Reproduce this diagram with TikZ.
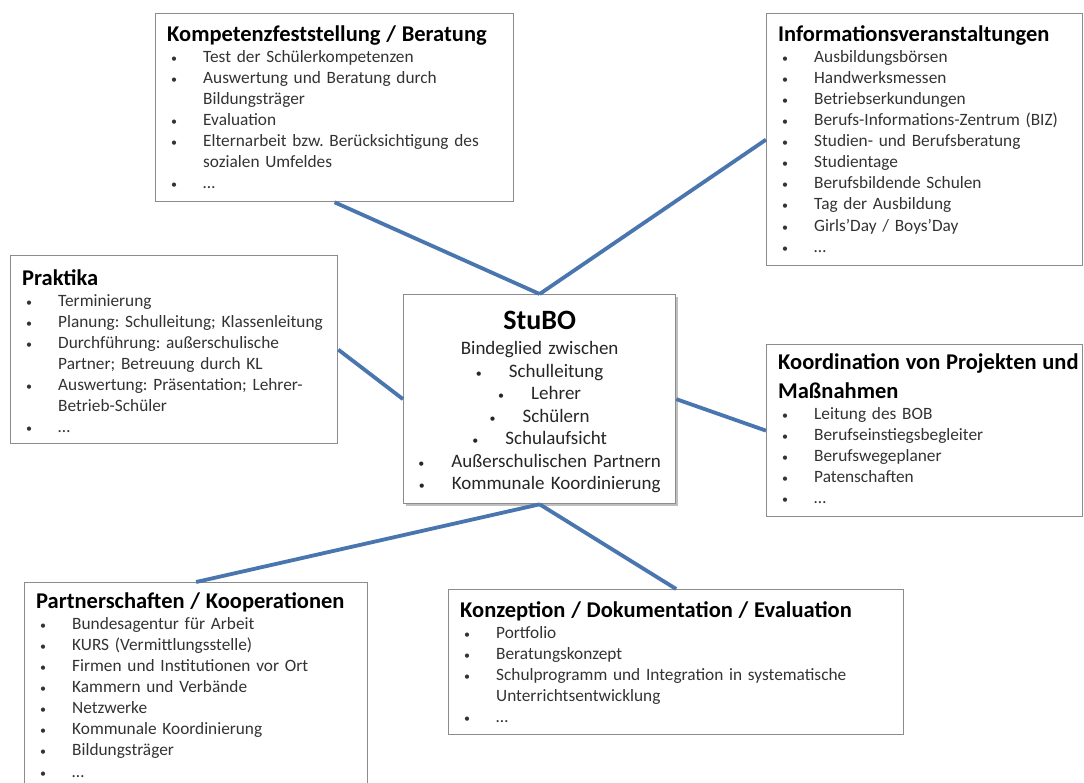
\documentclass[tikz,border=0pt]{standalone}
\usepackage{fontspec}
\setmainfont{Carlito}
\usetikzlibrary{positioning, shadows}

\definecolor{linkblue}{RGB}{74,118,176}

\frenchspacing
\newcommand{\itemfont}{\fontsize{17.3}{21.1}\selectfont}
\newcommand{\smallbullet}{{\fontsize{12}{12}\selectfont\textbullet}}
\newcommand{\boxtitle}[1]{{\noindent\fontsize{22.5}{29}\selectfont\bfseries\color{black}\rule{0pt}{20pt}#1\par}}
\newcommand{\itm}[1]{\par\noindent\hangindent=36pt\hangafter=1\makebox[36pt][l]{\hspace{4pt}\smallbullet}#1}
\newcommand{\stb}{\makebox[33pt][l]{\smallbullet}}

\begin{document}
\begin{tikzpicture}[x=1pt, y=-1pt]
    % settings for this picture
    \tikzset{
      frame/.style={draw=black!45, line width=1.3pt, fill=white, inner sep=0pt, anchor=north west},
      listtext/.style={inner sep=0pt, align=left, font=\itemfont, text=black!80},
      link/.style={draw=linkblue, line width=3.8pt},
    }
    \useasboundingbox (0,0) rectangle (1084,783);
    \fill[white] (0,0) rectangle (1084,783);
    \clip (0,0) rectangle (1084,783);

    % frames
    \node[frame, minimum width=358pt, minimum height=188pt] (kompetenz) at (155,13) {};
    \node[frame, minimum width=316pt, minimum height=252pt] (info) at (766,13) {};
    \node[frame, minimum width=327pt, minimum height=188pt] (praktika) at (10,255) {};
    \node[frame, minimum width=272pt, minimum height=209pt,
          drop shadow={shadow xshift=2.5pt, shadow yshift=-2.5pt, fill=black, opacity=.25}] (stubo) at (403,294) {};
    \node[frame, minimum width=316pt, minimum height=172pt] (koordination) at (766,344) {};
    \node[frame, minimum width=343pt, minimum height=230pt] (partner) at (24,582) {};
    \node[frame, minimum width=455pt, minimum height=145pt] (konzeption) at (448,589) {};

    % texts
    \node[listtext, text width=346pt, below right=8pt and 12pt of kompetenz.north west] (kompetenzText) {%
      \boxtitle{Kompetenzfeststellung / Beratung}%
      \itm{Test der Schülerkompetenzen}%
      \itm{Auswertung und Beratung durch\newline Bildungsträger}%
      \itm{Evaluation}%
      \itm{Elternarbeit bzw. Berücksichtigung des\newline sozialen Umfeldes}%
      \itm{…}};
    \node[listtext, text width=310pt, below right=8pt and 12pt of info.north west] (infoText) {%
      \boxtitle{Informationsveranstaltungen}%
      \itm{Ausbildungsbörsen}%
      \itm{Handwerksmessen}%
      \itm{Betriebserkundungen}%
      \itm{Berufs-Informations-Zentrum (BIZ)}%
      \itm{Studien- und Berufsberatung}%
      \itm{Studientage}%
      \itm{Berufsbildende Schulen}%
      \itm{Tag der Ausbildung}%
      \itm{Girls’Day / Boys’Day}%
      \itm{…}};
    \node[listtext, text width=320pt, below right=10pt and 12pt of praktika.north west] (praktikaText) {%
      \boxtitle{Praktika}%
      \itm{Terminierung}%
      \itm{Planung: Schulleitung; Klassenleitung}%
      \itm{Durchführung: außerschulische\newline Partner; Betreuung durch KL}%
      \itm{Auswertung: Präsentation; Lehrer-\newline Betrieb-Schüler}%
      \itm{…}};
    \node[inner sep=0pt, align=center, text width=272pt, font=\fontsize{19}{22.5}\selectfont,
          text=black!85, below=11.7pt of stubo.north] (stuboText) {%
      {\fontsize{28}{34}\selectfont\bfseries\color{black}\rule{0pt}{24pt}StuBO}\\[2.6pt]
      Bindeglied zwischen\\
      \stb Schulleitung\\
      \stb Lehrer\\
      \stb Schülern\\
      \stb Schulaufsicht\\
      \stb Außerschulischen Partnern\\
      \stb Kommunale Koordinierung};
    \node[listtext, text width=312pt, below right=5pt and 12pt of koordination.north west] (koordinationText) {%
      \boxtitle{Koordination von Projekten und\newline Maßnahmen}%
      \itm{Leitung des BOB}%
      \itm{Berufseinstiegsbegleiter}%
      \itm{Berufswegeplaner}%
      \itm{Patenschaften}%
      \itm{…}};
    \node[listtext, text width=331pt, below right=6pt and 12pt of partner.north west] (partnerText) {%
      \boxtitle{Partnerschaften / Kooperationen}%
      \itm{Bundesagentur für Arbeit}%
      \itm{KURS (Vermittlungsstelle)}%
      \itm{Firmen und Institutionen vor Ort}%
      \itm{Kammern und Verbände}%
      \itm{Netzwerke}%
      \itm{Kommunale Koordinierung}%
      \itm{Bildungsträger}%
      \itm{…}};
    \node[listtext, text width=440pt, below right=8pt and 12pt of konzeption.north west] (konzeptionText) {%
      \boxtitle{Konzeption / Dokumentation / Evaluation}%
      \itm{Portfolio}%
      \itm{Beratungskonzept}%
      \itm{Schulprogramm und Integration in systematische\newline Unterrichtsentwicklung}%
      \itm{…}};

    % connectors
    \draw[link] (stubo.north) -- (kompetenz.south);
    \draw[link] (stubo.north) -- (info.west);
    \draw[link] (stubo.west) -- (praktika.east);
    \draw[link] (stubo.east) -- (koordination.west);
    \draw[link] (stubo.south) -- (partner.north);
    \draw[link] (stubo.south) -- (konzeption.north);
\end{tikzpicture}
\end{document}
